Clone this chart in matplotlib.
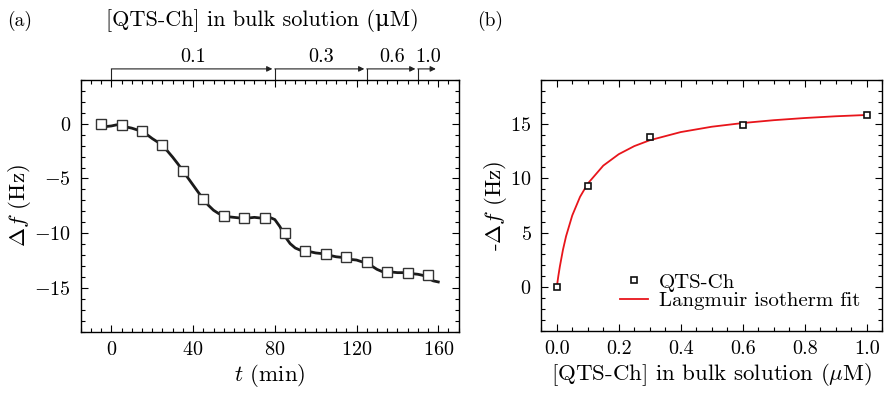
import numpy as np
import matplotlib
matplotlib.use('Agg')
import matplotlib.pyplot as plt
from matplotlib.ticker import MultipleLocator, FormatStrFormatter
import matplotlib.transforms as mtransforms

plt.rcParams['font.family'] = 'cmr10'
plt.rcParams['mathtext.fontset'] = 'cm'
plt.rcParams['axes.unicode_minus'] = False
plt.rcParams['axes.formatter.use_mathtext'] = True

# (a) frequency shift vs time
t_line = [-5, -2.5, 0, 2.5, 5, 7.5, 10, 12.5, 15, 17.5, 20, 22.5, 25, 27.5, 30, 32.5,
          35, 37.5, 40, 42.5, 45, 47.5, 50, 52.5, 55, 57.5, 60, 62.5, 65, 67.5, 70,
          72.5, 75, 77.5, 80, 82.5, 85, 87.5, 90, 92.5, 95, 97.5, 100, 102.5, 105,
          107.5, 110, 112.5, 115, 117.5, 120, 122.5, 125, 127.5, 130, 132.5, 135,
          137.5, 140, 142.5, 145, 147.5, 150, 152.5, 155, 157.5, 160]
df_line = [0.0, -0.25, -0.2, -0.1, -0.15, -0.3, -0.4, -0.55, -0.7, -1.0, -1.35, -1.65,
           -2.0, -2.5, -3.05, -3.65, -4.3, -4.95, -5.6, -6.25, -6.9, -7.45, -7.9, -8.2,
           -8.4, -8.5, -8.55, -8.6, -8.6, -8.6, -8.55, -8.6, -8.6, -8.55, -8.75, -9.4,
           -10.3, -10.95, -11.35, -11.55, -11.6, -11.7, -11.8, -11.85, -11.95, -12.05,
           -12.15, -12.2, -12.3, -12.4, -12.45, -12.6, -12.75, -13.0, -13.3, -13.5,
           -13.5, -13.55, -13.6, -13.6, -13.65, -13.7, -13.75, -13.85, -14.1, -14.35,
           -14.45]
t_mark = [-5, 5, 15, 25, 35, 45, 55, 65, 75, 85, 95, 105, 115, 125, 135, 145, 155]
df_mark = [0.0, -0.15, -0.7, -1.97, -4.3, -6.9, -8.4, -8.58, -8.58, -9.95, -11.6,
           -11.9, -12.2, -12.6, -13.5, -13.6, -13.8]

# injection steps on the top axis
inj_bounds = [0, 80, 125, 150, 160]
inj_labels = ['0.1', '0.3', '0.6', '1.0']

# (b) isotherm
conc = [0.0, 0.1, 0.3, 0.6, 1.0]
mdf = [0.0, 9.3, 13.8, 14.9, 15.8]
fit_c = [0.0, 0.005, 0.01, 0.02, 0.03, 0.05, 0.075, 0.1, 0.15, 0.2, 0.25, 0.3, 0.4,
         0.5, 0.6, 0.7, 0.8, 0.9, 1.0]
fit_df = [0.0, 1.01, 1.9, 3.43, 4.67, 6.58, 8.28, 9.5, 11.15, 12.2, 12.94, 13.48,
          14.23, 14.72, 15.06, 15.32, 15.52, 15.68, 15.8]

fig = plt.figure(figsize=(8.84, 3.94), dpi=100)
ax1 = fig.add_axes([0.0913, 0.158, 0.4276, 0.639])
ax2 = fig.add_axes([0.6123, 0.1607, 0.3857, 0.636])

for ax in (ax1, ax2):
    ax.tick_params(which='both', direction='in', top=True, right=True, labelsize=14.5,
                   width=0.8, pad=7)
    ax.tick_params(which='major', length=5)
    ax.tick_params(which='minor', length=3)
    for s in ax.spines.values():
        s.set_linewidth(1.0)

ax1.plot(t_line, df_line, '-', color='#1a1a1a', lw=2.0, zorder=2)
ax1.plot(t_mark, df_mark, 's', ms=7, mfc='white', mec='#333333', mew=1.0, zorder=3)
ax1.set_xlim(-15, 170)
ax1.set_ylim(-19, 4)
ax1.xaxis.set_major_locator(MultipleLocator(40))
ax1.xaxis.set_minor_locator(MultipleLocator(5))
ax1.yaxis.set_major_locator(MultipleLocator(5))
ax1.yaxis.set_minor_locator(MultipleLocator(1))
ax1.set_xlabel(r'$t$ (min)', fontsize=16.5, labelpad=2)
ax1.set_ylabel(r'$\Delta f$ (Hz)', fontsize=16.5, labelpad=1)

trans = mtransforms.blended_transform_factory(ax1.transData, ax1.transAxes)
for i, lab in enumerate(inj_labels):
    t0, t1 = inj_bounds[i], inj_bounds[i + 1]
    ax1.plot([t0, t0], [1.0, 1.044], color='#222222', lw=0.8, transform=trans, clip_on=False)
    ax1.annotate('', xy=(t1 - 1.2, 1.044), xytext=(t0, 1.044), xycoords=trans, textcoords=trans,
                 arrowprops=dict(arrowstyle='-|>', color='#222222', lw=0.8,
                                 mutation_scale=8, shrinkA=0, shrinkB=0))
    ax1.text((t0 + t1) / 2, 1.055, lab, transform=trans, ha='center', va='bottom', fontsize=14.5)

fig.text(0.297, 0.948, '[QTS-Ch] in bulk solution (\u03bcM)', ha='center', va='center',
         fontsize=16, family=['cmr10', 'DejaVu Serif'])
fig.text(0.022, 0.948, '(a)', ha='center', va='center', fontsize=14)
fig.text(0.555, 0.948, '(b)', ha='center', va='center', fontsize=14)

ax2.plot(fit_c, fit_df, '-', color='#e8151b', lw=1.3, label='Langmuir isotherm fit', zorder=2)
ax2.plot(conc, mdf, 's', ms=5, mfc='white', mec='#111111', mew=1.2, label='QTS-Ch', zorder=3)
ax2.set_xlim(-0.05, 1.05)
ax2.set_ylim(-4, 19)
ax2.xaxis.set_major_locator(MultipleLocator(0.2))
ax2.xaxis.set_minor_locator(MultipleLocator(0.05))
ax2.yaxis.set_major_locator(MultipleLocator(5))
ax2.yaxis.set_minor_locator(MultipleLocator(1))
ax2.xaxis.set_major_formatter(FormatStrFormatter('%.1f'))
ax2.set_xlabel(r'[QTS-Ch] in bulk solution ($\mu$M)', fontsize=16.5, labelpad=2)
ax2.set_ylabel(r'-$\Delta f$ (Hz)', fontsize=16.5, labelpad=1)
h, l = ax2.get_legend_handles_labels()
ax2.legend(h[::-1], l[::-1], loc='lower right', frameon=False, fontsize=15,
           handlelength=1.35, handletextpad=0.5, borderaxespad=0.3, labelspacing=0.0,
           bbox_to_anchor=(0.977, 0.023))

fig.savefig('out.png', dpi=100)
